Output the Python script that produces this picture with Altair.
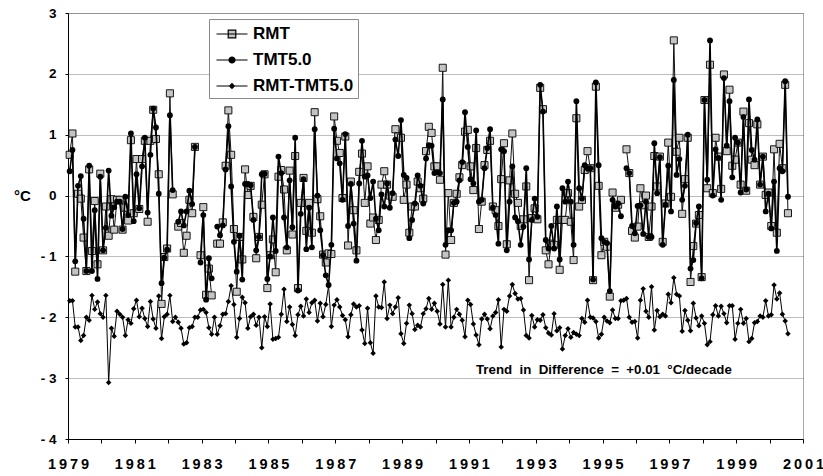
import altair as alt
import pandas as pd

FONT = "Liberation Sans"
START_YEAR = 1979
MONTH_OFFSET = 0.6

# ---------------- data (monthly anomalies) ----------------
rmt_1979 = [0.67, 1.02, -1.25, 0.03, -0.05, -0.69, -1.24, 0.43, -0.91, -0.09, -1.13, 0.36]
rmt_1980 = [-0.90, -0.18, -0.66, -0.06, -0.56, -0.07, -0.07, -0.56, -0.20, -0.41, 0.91, -0.29]
rmt_1981 = [0.60, -0.22, 0.60, 0.90, -0.43, 0.90, 1.41, 0.93, 0.35, -1.78, -1.01, -0.87]
rmt_1982 = [1.68, 0.02, None, -0.51, -0.45, -0.94, -0.66, -0.07, -0.29, 0.80, None, -0.98]
rmt_1983 = [-0.19, -1.63, -1.20, -1.64, None, -0.79, -0.79, -0.44, 0.49, 1.40, 0.67, -0.55]
rmt_1984 = [-1.58, -0.68, -1.05, 0.43, 0.01, 0.16, -0.35, -1.03, -0.68, -0.15, 0.35, -1.52]
rmt_1985 = [-0.98, -0.72, -1.26, 0.31, 0.42, 0.10, -0.90, 0.41, -0.64, 0.65, -1.52, -0.12]
rmt_1986 = [0.29, -0.58, -0.12, -0.61, 1.37, -0.06, -0.34, -0.97, -1.10, -0.95, -0.96, 1.30]
rmt_1987 = [0.90, 0.70, -0.04, 0.97, -0.82, 0.23, -0.24, -0.90, 0.39, 0.69, -0.12, 0.48]
rmt_1988 = [-0.46, -0.36, -0.73, -0.40, 0.18, 0.40, 0.18, 0.00, -0.02, 1.09, 0.97, 0.95]
rmt_1989 = [-0.07, 0.18, -0.61, -0.18, -0.18, 0.23, 0.12, -0.05, 0.73, 1.13, 1.03, 0.48]
rmt_1990 = [0.48, 0.26, 2.10, -0.97, 0.04, -0.73, -0.12, 0.03, 0.30, 0.50, 1.05, 1.08]
rmt_1991 = [0.48, 0.09, 0.78, -0.55, -0.10, 0.50, 0.75, 0.90, -0.18, -0.24, -0.50, 0.27]
rmt_1992 = [0.86, -0.80, 0.25, 1.02, 0.03, -0.12, -0.50, -0.39, 0.15, -1.39, -0.37, -0.21]
rmt_1993 = [-0.39, 1.77, 1.42, -0.90, -1.13, -0.79, -0.81, -0.40, -1.22, -0.40, -0.40, 0.04]
rmt_1994 = [-0.43, -1.06, 1.27, -0.18, -0.07, 0.42, 0.73, 0.45, -1.39, 1.79, 0.16, -0.98]
rmt_1995 = [-0.76, -0.84, -1.66, 0.05, -0.20, -0.15, -0.07, None, 0.76, 0.37, -0.58, -0.69]
rmt_1996 = [-0.51, 0.12, -0.16, 0.00, -0.68, -0.18, 0.65, 0.15, 0.64, -0.76, -0.13, 0.87]
rmt_1997 = [-0.02, 2.55, 0.72, 0.95, -0.30, 0.27, 0.95, -1.42, -0.83, -0.46, -0.32, -1.34]
rmt_1998 = [1.57, 0.12, 2.15, 0.04, 0.95, 0.64, 0.11, 1.99, 0.73, 1.74, 0.49, 0.59]
rmt_1999 = [0.87, 0.18, 1.38, 0.08, 1.19, 0.59, 0.50, 1.17, 0.18, 0.64, 0.01, 0.05]
rmt_2000 = [-0.50, 0.76, -0.61, 0.85, 0.45, 1.82, -0.29]

tmt_1979 = [0.40, 0.75, -1.08, 0.16, 0.32, -0.38, -1.24, 0.49, -1.24, -0.24, -1.37, 0.31]
tmt_1980 = [-0.90, -0.53, 0.41, -0.33, -0.19, -0.10, -0.10, -0.55, -0.02, -0.32, 1.02, -0.42]
tmt_1981 = [0.35, -0.21, 0.48, 0.95, -0.28, 0.67, 1.43, 1.12, 0.03, -1.44, -1.02, -0.89]
tmt_1982 = [1.32, 0.09, None, -0.43, -0.26, -0.49, -0.26, 0.08, -0.14, 0.80, None, -1.10]
tmt_1983 = [-0.32, -1.71, -1.03, -1.36, None, -0.51, -0.65, -0.49, 0.43, 1.14, 0.15, -0.76]
tmt_1984 = [-1.25, -0.66, -1.38, 0.19, 0.19, 0.17, -0.40, -0.90, -0.68, 0.35, 0.36, -1.37]
tmt_1985 = [-1.00, -0.36, -0.91, 0.64, 0.37, -0.36, -0.85, 0.25, -0.52, 0.95, -1.56, -0.30]
tmt_1986 = [0.27, -0.88, -0.20, -0.85, 1.09, 0.00, -0.57, -0.98, -1.31, -1.47, -0.81, 1.10]
tmt_1987 = [0.61, 0.53, -0.07, 1.01, -0.50, 0.19, -0.46, -1.07, 0.20, 0.90, 0.31, 0.33]
tmt_1988 = [-0.04, 0.23, -0.38, -0.57, 0.02, -0.18, 0.20, -0.20, 0.04, 0.92, 0.65, 1.24]
tmt_1989 = [0.34, 0.29, -0.70, -0.40, -0.13, 0.33, 0.16, -0.13, 0.61, 0.83, 0.82, 0.37]
tmt_1990 = [0.38, 0.37, 1.58, -0.81, -0.57, -0.57, -0.12, -0.10, 0.25, 0.55, 1.37, 0.80]
tmt_1991 = [0.27, 0.20, 1.07, -0.10, -0.07, 0.45, 0.78, 1.09, -0.20, -0.32, -0.79, 0.76]
tmt_1992 = [0.73, -0.90, -0.10, 0.48, -0.36, -0.42, -0.81, -0.51, 0.45, -1.05, -0.40, -0.05]
tmt_1993 = [-0.35, 1.82, 1.38, -0.73, -0.87, -0.50, -0.87, -0.18, -1.05, 0.12, -0.10, 0.23]
tmt_1994 = [-0.10, -0.81, 1.55, 0.12, -0.05, 0.50, 0.45, 0.45, -1.38, 1.86, 0.50, -0.70]
tmt_1995 = [-0.76, -0.78, -1.57, -0.07, -0.18, -0.13, -0.34, None, 0.45, 0.37, -0.50, -0.62]
tmt_1996 = [-0.17, -0.16, -0.63, -0.10, -0.68, -0.68, 0.86, 0.04, 0.63, -0.81, -0.15, 0.49]
tmt_1997 = [-0.26, 1.90, 0.34, 0.60, -0.07, 0.16, 1.00, -1.20, -1.06, -0.45, -0.18, -1.36]
tmt_1998 = [1.57, 0.26, 2.55, 0.00, 0.76, 0.62, -0.07, 1.93, 0.82, 1.55, 0.30, 0.95]
tmt_1999 = [0.87, 0.05, 1.29, 0.10, 1.58, 0.75, 0.59, 1.25, 0.18, 0.64, -0.26, 0.03]
tmt_2000 = [-0.54, 0.23, -0.91, 0.45, 0.40, 1.88, -0.02]

# difference series as plotted (offset to sit around -2)
dif_1979 = [-1.73, -1.73, -2.16, -2.16, -2.38, -2.30, -2.00, -2.05, -1.64, -1.87, -1.75, -1.94]
dif_1980 = [-2.00, -1.64, -3.07, -2.18, -2.31, -1.90, -1.95, -2.00, -2.30, -2.04, -2.10, -1.86]
dif_1981 = [-1.72, -1.99, -1.85, -2.02, -2.15, -1.74, -2.03, -2.18, -1.65, -2.35, -1.99, -1.95]
dif_1982 = [-1.64, -2.07, -2.00, -2.08, -2.18, -2.44, -2.42, -2.17, -2.15, -2.00, -2.00, -1.88]
dif_1983 = [-1.87, -1.92, -2.17, -2.28, -2.00, -2.28, -2.14, -1.95, -1.94, -1.74, -1.48, -1.79]
dif_1984 = [-2.33, -2.02, -1.67, -1.76, -2.18, -1.99, -1.95, -2.13, -2.00, -2.50, -1.99, -2.15]
dif_1985 = [-1.78, -2.36, -2.35, -2.33, -1.95, -1.54, -2.07, -1.83, -2.12, -2.30, -1.96, -1.82]
dif_1986 = [-1.98, -1.70, -1.92, -1.76, -1.72, -2.06, -1.77, -1.99, -1.79, -1.48, -2.15, -1.80]
dif_1987 = [-1.71, -1.83, -1.97, -2.04, -2.32, -1.96, -1.78, -1.83, -1.81, -2.21, -2.43, -1.85]
dif_1988 = [-2.42, -2.59, -1.65, -1.83, -1.84, -1.42, -2.02, -1.80, -1.94, -1.83, -1.68, -2.27]
dif_1989 = [-2.43, -2.10, -1.80, -1.94, -2.20, -2.13, -2.16, -1.94, -1.86, -1.69, -1.87, -1.77]
dif_1990 = [-1.90, -2.11, -1.46, -2.16, -1.39, -2.16, -2.00, -1.87, -1.95, -2.05, -2.32, -1.72]
dif_1991 = [-1.79, -2.11, -2.29, -2.45, -2.03, -1.95, -2.03, -2.19, -1.98, -1.92, -1.71, -2.49]
dif_1992 = [-1.87, -1.90, -1.65, -1.46, -1.61, -1.70, -1.69, -1.88, -2.30, -2.34, -1.97, -2.16]
dif_1993 = [-2.04, -2.05, -1.96, -2.17, -2.26, -2.29, -1.94, -2.22, -2.17, -2.52, -2.30, -2.19]
dif_1994 = [-2.33, -2.25, -2.28, -2.30, -2.02, -2.08, -1.72, -2.00, -2.01, -2.07, -2.34, -2.28]
dif_1995 = [-2.00, -2.06, -2.09, -1.88, -2.02, -2.02, -1.73, -1.72, -1.69, -2.00, -2.08, -2.07]
dif_1996 = [-2.34, -1.72, -1.53, -1.90, -2.00, -1.50, -2.21, -1.89, -1.99, -1.95, -1.98, -1.62]
dif_1997 = [-1.76, -1.35, -1.62, -1.65, -2.23, -1.89, -2.05, -2.22, -1.77, -2.01, -2.14, -1.98]
dif_1998 = [-2.10, -2.45, -2.40, -1.96, -1.81, -1.98, -1.82, -1.94, -2.09, -1.81, -1.81, -2.36]
dif_1999 = [-2.10, -1.87, -2.10, -2.02, -2.40, -2.35, -2.09, -2.07, -1.98, -2.00, -1.73, -1.98]
dif_2000 = [-1.96, -1.47, -1.70, -1.60, -1.95, -2.06, -2.27]

SERIES_NAMES = ["RMT", "TMT5.0", "RMT-TMT5.0"]
Y_TICKS = [-4, -3, -2, -1, 0, 1, 2, 3]
X_TICKS = list(range(1979, 2002))
ANNOTATION_TEXT = ["Trend\u00a0 in\u00a0 Difference\u00a0 =\u00a0 +0.01\u00a0 \u00b0C/decade"]
ANNOTATION_T = [1995.04]
ANNOTATION_V = [-2.87]


def concat(prefix):
    out = []
    for yr in range(1979, 2001):
        out += globals()[f"{prefix}_{yr}"]
    return out


def frame(name, values):
    df = pd.DataFrame({"v": pd.Series(values, dtype="float64")})
    df["t"] = START_YEAR + (df.index + MONTH_OFFSET) / 12.0
    df["seg"] = df["v"].isna().cumsum()
    df["series"] = name
    return df.dropna(subset=["v"])


data = pd.concat(
    [frame("RMT", concat("rmt")), frame("TMT5.0", concat("tmt")), frame("RMT-TMT5.0", concat("dif"))],
    ignore_index=True,
)

# ---------------- encodings ----------------
X = alt.X(
    "t:Q",
    scale=alt.Scale(domain=[1979, 2001], nice=False, zero=False),
    axis=alt.Axis(
        values=X_TICKS,
        labelExpr="datum.value % 2 == 1 ? join(split(toString(datum.value), ''), '\u2009') : ''",
        title=None, grid=False, tickSize=4, labelPadding=14,
        labelFont=FONT, labelFontSize=14.5, labelFontWeight="bold", labelColor="black",
        domainColor="black", tickColor="black", labelFlush=False, labelOverlap=False,
    ),
)
Y = alt.Y(
    "v:Q",
    scale=alt.Scale(domain=[-4, 3], nice=False, zero=False),
    axis=alt.Axis(
        values=Y_TICKS,
        labelExpr="datum.value < 0 ? '- ' + toString(-datum.value) : toString(datum.value)",
        title="\u00b0C", titleAngle=0, titleX=-46, titleY=182, titleAlign="center",
        titleBaseline="middle", titleFont=FONT, titleFontSize=15, titleFontWeight="bold",
        titleColor="black", grid=True, gridColor="#7a7a7a", gridDash=[1, 1], gridWidth=1,
        tickSize=3, labelPadding=9, labelFont=FONT, labelFontSize=13.5, labelFontWeight="bold",
        labelColor="black", domainColor="black", tickColor="black",
    ),
)

base = alt.Chart(data).encode(x=X, y=Y)

dif_line = base.transform_filter(alt.datum.series == "RMT-TMT5.0").mark_line(
    color="black", strokeWidth=1).encode(detail="seg:N")
dif_pts = base.transform_filter(alt.datum.series == "RMT-TMT5.0").mark_point(
    shape="diamond", filled=True, color="black", size=30, opacity=1)

rmt_line = base.transform_filter(alt.datum.series == "RMT").mark_line(
    color="#111111", strokeWidth=1).encode(detail="seg:N")
rmt_pts = base.transform_filter(alt.datum.series == "RMT").mark_point(
    shape="square", filled=True, fill="#c4c4c4", stroke="black", strokeWidth=0.9, size=50, opacity=1)

tmt_line = base.transform_filter(alt.datum.series == "TMT5.0").mark_line(
    color="black", strokeWidth=1.6).encode(detail="seg:N")
tmt_pts = base.transform_filter(alt.datum.series == "TMT5.0").mark_circle(
    color="black", size=34, opacity=1)

anno = alt.Chart(pd.DataFrame({"t": ANNOTATION_T, "v": ANNOTATION_V, "label": ANNOTATION_TEXT})).mark_text(
    font=FONT, fontSize=13.3, fontWeight="bold", color="black", align="center", baseline="middle"
).encode(x=X, y=Y, text="label:N")

# legend (drawn by Vega-Lite from clipped-away dummy points)
LEGEND_PATHS = [
    "M-1.55,0H1.55M-0.38,-0.38H0.38V0.38H-0.38Z",
    "M-1.55,0H1.55M-0.3,0A0.3,0.3 0 1,0 0.3,0A0.3,0.3 0 1,0 -0.3,0Z",
    "M-1.55,0H1.55M0,-0.24L0.24,0L0,0.24L-0.24,0Z",
]
LEGEND_FILLS = ["#c4c4c4", "black", "black"]
LEGEND_STROKES = ["black", "black", "black"]
leg = alt.Legend(
    title=None, orient="none", legendX=141, legendY=6, fillColor="white", strokeColor="#8a8a8a",
    padding=4, symbolOffset=8, labelOffset=10, rowPadding=7, symbolSize=400,
    symbolStrokeWidth=1.2,
    labelFont=FONT, labelFontSize=17, labelFontWeight="bold", labelColor="black",
)
legend_df = pd.DataFrame({"series": SERIES_NAMES, "t": [1960.0] * 3, "v": [0.0] * 3})
legend_layer = alt.Chart(legend_df).mark_point(
    filled=True, clip=True, strokeWidth=1.2, opacity=1
).encode(
    x=X, y=Y,
    shape=alt.Shape("series:N", scale=alt.Scale(domain=SERIES_NAMES, range=LEGEND_PATHS), legend=leg),
    fill=alt.Fill("series:N", scale=alt.Scale(domain=SERIES_NAMES, range=LEGEND_FILLS), legend=leg),
    stroke=alt.Stroke("series:N", scale=alt.Scale(domain=SERIES_NAMES, range=LEGEND_STROKES), legend=leg),
)

chart = alt.layer(
    dif_line, dif_pts, rmt_line, rmt_pts, tmt_line, tmt_pts, anno, legend_layer
).properties(
    width=735, height=426,
    padding={"left": 68, "top": 13, "right": 20, "bottom": 37},
    autosize=alt.AutoSizeParams(type="none"),
    background="white",
).configure_view(
    stroke="#555555", strokeWidth=1, strokeDash=[1, 1]
)

chart.save("out.html", embed_options={"renderer": "svg", "actions": False})
